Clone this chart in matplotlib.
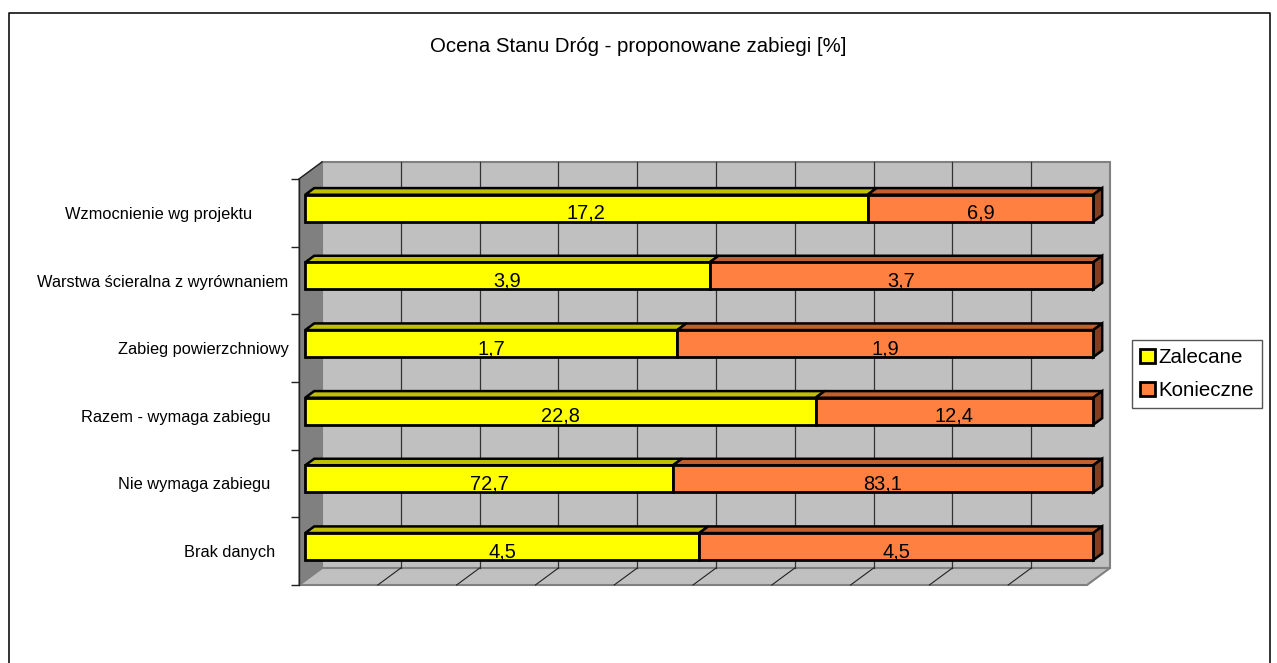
import matplotlib

matplotlib.use("Agg")
import matplotlib.pyplot as plt
from matplotlib.lines import Line2D
from matplotlib.patches import Polygon

plt.rcParams["font.family"] = ["Liberation Sans", "DejaVu Sans"]

W, H = 1277, 663

title = "Ocena Stanu Dróg - proponowane zabiegi [%]"
categories = [
    "Brak danych   ",
    "Nie wymaga zabiegu    ",
    "Razem - wymaga zabiegu    ",
    "Zabieg powierzchniowy",
    "Warstwa ścieralna z wyrównaniem",
    "Wzmocnienie wg projektu        ",
]
zalecane = [4.5, 72.7, 22.8, 1.7, 3.9, 17.2]
konieczne = [4.5, 83.1, 12.4, 1.9, 3.7, 6.9]
series_names = ["Zalecane", "Konieczne"]
pct_ticks = [0, 10, 20, 30, 40, 50, 60, 70, 80, 90, 100]

YELLOW, YELLOW_TOP = "#FFFF00", "#C0C000"
ORANGE, ORANGE_TOP, ORANGE_SIDE = "#FF8040", "#C06030", "#804020"
WALL, WALL_DARK = "#C0C0C0", "#808080"

# fake 3D depth: shift per unit of z, in data units
DX, DY = 2.92, 0.251
Z_FRONT, Z_BACK = 0.27, 0.66
BAR_H = 0.4


def proj(x, y, z=0.0):
    return x + DX * z, y + DY * z


fig = plt.figure(figsize=(W / 100, H / 100), dpi=100)
ax = fig.add_axes([299 / W, (H - 585) / H, 788 / W, 406 / H])
ax.set_xlim(0, 100)
ax.set_ylim(0, 6)
ax.patch.set_visible(False)
for s in ax.spines.values():
    s.set_visible(False)

# walls and floor
n = len(categories)
back_wall = [proj(0, 0, 1), proj(100, 0, 1), proj(100, n, 1), proj(0, n, 1)]
side_wall = [proj(0, 0), proj(0, 0, 1), proj(0, n, 1), proj(0, n)]
floor = [proj(0, 0), proj(100, 0), proj(100, 0, 1), proj(0, 0, 1)]
ax.add_patch(Polygon(back_wall, fc=WALL, ec=WALL_DARK, lw=1.5, clip_on=False, zorder=1))
ax.add_patch(Polygon(floor, fc=WALL, ec=WALL_DARK, lw=1.5, clip_on=False, zorder=1))
ax.add_patch(Polygon(side_wall, fc=WALL_DARK, ec=WALL_DARK, lw=1, clip_on=False, zorder=1.1))
for a, b in [(proj(0, 0), proj(0, n)), (proj(0, n), proj(0, n, 1))]:
    ax.plot(*zip(a, b), color="#222222", lw=1, clip_on=False, zorder=1.2)

# gridlines on back wall and floor
for p in pct_ticks[1:-1]:
    ax.plot(*zip(proj(p, 0, 1), proj(p, n, 1)), color="#333333", lw=0.9, clip_on=False, zorder=1.5)
    ax.plot(*zip(proj(p, 0), proj(p, 0, 1)), color="#222222", lw=0.8, clip_on=False, zorder=1.5)

# bars, normalised to 100%
ypos = [i + 0.5 + DY * Z_FRONT for i in range(n)]
totals = [a + b for a, b in zip(zalecane, konieczne)]
share_a = [100 * a / t for a, t in zip(zalecane, totals)]
share_b = [100 * b / t for b, t in zip(konieczne, totals)]
left = DX * Z_FRONT

ax.barh(ypos, share_a, BAR_H, left=left, color=YELLOW, edgecolor="black", lw=2,
        clip_on=False, zorder=3, label=series_names[0])
ax.barh(ypos, share_b, BAR_H, left=[left + s for s in share_a], color=ORANGE, edgecolor="black",
        lw=2, clip_on=False, zorder=3, label=series_names[1])

dz = Z_BACK - Z_FRONT
for y, sa, sb, a, b in zip(ypos, share_a, share_b, zalecane, konieczne):
    top = y + BAR_H / 2
    bot = y - BAR_H / 2
    x0, x1, x2 = left, left + sa, left + sa + sb
    for xa, xb, c in [(x0, x1, YELLOW_TOP), (x1, x2, ORANGE_TOP)]:
        ax.add_patch(Polygon([(xa, top), (xb, top), (xb + DX * dz, top + DY * dz), (xa + DX * dz, top + DY * dz)],
                             fc=c, ec="black", lw=1.8, clip_on=False, zorder=2.8))
    ax.add_patch(Polygon([(x2, bot), (x2 + DX * dz, bot + DY * dz), (x2 + DX * dz, top + DY * dz), (x2, top)],
                         fc=ORANGE_SIDE, ec="black", lw=1.8, clip_on=False, zorder=2.8))
    for xc, v in [((x0 + x1) / 2, a), ((x1 + x2) / 2, b)]:
        ax.text(xc, bot + 0.045, f"{v:.1f}".replace(".", ","), ha="center", va="baseline",
                fontsize=14.4, color="black", zorder=4)

# category axis
ax.set_xticks([])
ax.set_yticks(range(n + 1))
ax.set_yticklabels([])
ax.set_yticks([i + 0.5 for i in range(n)], categories, minor=True)
ax.tick_params(axis="y", which="major", length=6, width=1, color="#222222")
ax.tick_params(axis="y", which="minor", length=0, pad=7.6, labelsize=11.8)

ax.legend(loc="upper left", bbox_to_anchor=(1132 / W, 1 - 340 / H), bbox_transform=fig.transFigure,
          borderaxespad=0, frameon=True, fancybox=False, framealpha=1, edgecolor="#555555",
          fontsize=14.8, handlelength=0.72, handleheight=0.72, handletextpad=0.18,
          labelspacing=0.68, borderpad=0.4)

fig.text(0.5, 1 - 46 / H, title, ha="center", va="center", fontsize=14.7)

# chart area border, runs off the bottom of the picture
fig.add_artist(Line2D([8.5 / W, 8.5 / W, 1270 / W, 1270 / W], [0, 1 - 12.5 / H, 1 - 12.5 / H, 0],
                      color="#111111", lw=1.2))

fig.savefig("out.png", dpi=100)
